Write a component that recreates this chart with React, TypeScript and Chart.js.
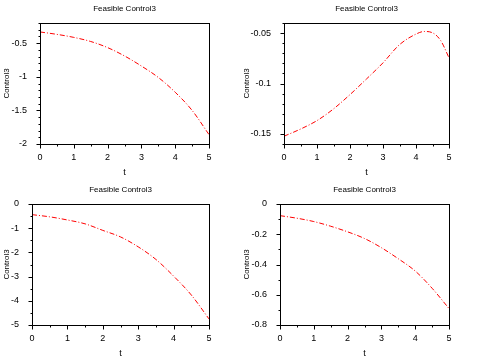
import React, { useEffect, useRef } from "react";
import { Chart, registerables } from "chart.js";

Chart.register(...registerables);

const TITLE = "Feasible Control3";
const X_LABEL = "t";
const Y_LABEL = "Control3";

const tHalf = [0, 0.5, 1, 1.5, 2, 2.5, 3, 3.5, 4, 4.5, 5];
const xTicks = [0, 1, 2, 3, 4, 5];

const values1 = [-0.333, -0.369, -0.414, -0.475, -0.566, -0.69, -0.84, -1.01, -1.23, -1.5, -1.86];
const yTicks1 = [-2, -1.5, -1, -0.5];

const t2 = [0, 0.5, 1, 1.5, 2, 2.5, 3, 3.5, 4, 4.25, 4.5, 4.75, 5];
const values2 = [-0.1523, -0.1452, -0.1368, -0.1252, -0.111, -0.0955, -0.0795, -0.0615, -0.051, -0.0484, -0.0497, -0.0575, -0.0745];
const yTicks2 = [-0.15, -0.1, -0.05];

const values3 = [-0.44, -0.53, -0.66, -0.82, -1.09, -1.36, -1.77, -2.29, -2.98, -3.76, -4.75];
const yTicks3 = [-5, -4, -3, -2, -1, 0];

const values4 = [-0.077, -0.094, -0.116, -0.147, -0.184, -0.228, -0.289, -0.362, -0.443, -0.557, -0.691];
const yTicks4 = [-0.8, -0.6, -0.4, -0.2, 0];

type PanelCfg = {
  t: number[];
  v: number[];
  yMin: number;
  yMax: number;
  yTicks: number[];
  yMinor: number;
  yAxisWidth: number;
  left: number;
  top: number;
};

const panels: PanelCfg[] = [
  { t: tHalf, v: values1, yMin: -2, yMax: -0.2, yTicks: yTicks1, yMinor: 0.1, yAxisWidth: 40, left: 0, top: 0 },
  { t: t2, v: values2, yMin: -0.16, yMax: -0.04, yTicks: yTicks2, yMinor: 0.01, yAxisWidth: 44, left: 240, top: 0 },
  { t: tHalf, v: values3, yMin: -5, yMax: 0, yTicks: yTicks3, yMinor: 0.5, yAxisWidth: 32, left: 0, top: 181 },
  { t: tHalf, v: values4, yMin: -0.8, yMax: 0, yTicks: yTicks4, yMinor: 0.1, yAxisWidth: 40, left: 240, top: 181 },
];

const FONT = "'Liberation Sans', Arial, sans-serif";

function fmt(v: number): string {
  const r = Math.round(v * 1000) / 1000;
  return String(r);
}

function Panel({ cfg }: { cfg: PanelCfg }) {
  const ref = useRef<HTMLCanvasElement | null>(null);
  useEffect(() => {
    if (!ref.current) return;
    const boxPlugin = {
      id: "boxAndTicks",
      afterDraw(chart: any) {
        const { ctx, chartArea, scales } = chart;
        const xs = scales.x;
        const ys = scales.y;
        ctx.save();
        ctx.strokeStyle = "#000";
        ctx.lineWidth = 1;
        const l = Math.round(chartArea.left) + 0.5;
        const r = Math.round(chartArea.right) + 0.5;
        const tp = Math.round(chartArea.top) + 0.5;
        const b = Math.round(chartArea.bottom) + 0.5;
        ctx.strokeRect(l, tp, r - l, b - tp);
        ctx.beginPath();
        for (let k = 0; k <= 10; k++) {
          const v = k * 0.5;
          const px = Math.round(xs.getPixelForValue(v)) + 0.5;
          const len = k % 2 === 0 ? 4 : 2;
          ctx.moveTo(px, b);
          ctx.lineTo(px, b + len);
        }
        const n = Math.round((cfg.yMax - cfg.yMin) / cfg.yMinor);
        for (let k = 0; k <= n; k++) {
          const v = cfg.yMin + k * cfg.yMinor;
          const major = cfg.yTicks.some((tv) => Math.abs(tv - v) < cfg.yMinor / 10);
          const py = Math.round(ys.getPixelForValue(v)) + 0.5;
          const len = major ? 4 : 2;
          ctx.moveTo(l, py);
          ctx.lineTo(l - len, py);
        }
        ctx.stroke();
        ctx.fillStyle = "#000";
        ctx.font = "8px " + FONT;
        ctx.textAlign = "center";
        ctx.textBaseline = "middle";
        ctx.fillText(TITLE, (chartArea.left + chartArea.right) / 2, 9);
        ctx.restore();
      },
    };
    const chart = new Chart(ref.current, {
      type: "line",
      data: {
        datasets: [
          {
            data: cfg.t.map((x, i) => ({ x, y: cfg.v[i] })),
            borderColor: "#ff0000",
            borderWidth: 1,
            borderDash: [5, 2, 1, 2],
            pointRadius: 0,
            cubicInterpolationMode: "monotone",
            fill: false,
          },
        ],
      },
      options: {
        animation: false,
        responsive: false,
        maintainAspectRatio: false,
        layout: { padding: { top: 23, right: 31, bottom: 0, left: 0 } },
        plugins: { legend: { display: false }, tooltip: { enabled: false }, title: { display: false } },
        scales: {
          x: {
            type: "linear",
            min: 0,
            max: 5,
            grid: { display: false },
            border: { display: false },
            afterBuildTicks: (s: any) => {
              s.ticks = xTicks.map((v) => ({ value: v }));
            },
            afterFit: (s: any) => {
              s.height = 37;
            },
            ticks: {
              color: "#000",
              font: { family: FONT, size: 9 },
              padding: 0,
              maxRotation: 0,
              callback: (v: any) => fmt(Number(v)),
            },
            title: {
              display: true,
              text: X_LABEL,
              color: "#000",
              font: { family: FONT, size: 9 },
              padding: { top: 4, bottom: 3 },
            },
          },
          y: {
            type: "linear",
            min: cfg.yMin,
            max: cfg.yMax,
            grid: { display: false },
            border: { display: false },
            afterBuildTicks: (s: any) => {
              s.ticks = cfg.yTicks.map((v) => ({ value: v }));
            },
            afterFit: (s: any) => {
              s.width = cfg.yAxisWidth;
            },
            ticks: {
              color: "#000",
              font: { family: FONT, size: 9 },
              padding: 5,
              callback: (v: any) => fmt(Number(v)),
            },
            title: {
              display: true,
              text: Y_LABEL,
              color: "#000",
              font: { family: FONT, size: 8 },
              padding: { top: 2, bottom: 2 },
            },
          },
        },
      } as any,
      plugins: [boxPlugin],
    });
    return () => chart.destroy();
  }, [cfg]);
  return (
    <canvas
      ref={ref}
      width={240}
      height={181}
      style={{ position: "absolute", left: cfg.left, top: cfg.top, width: 240, height: 181 }}
    />
  );
}

export default function App() {
  return (
    <div style={{ position: "absolute", left: 0, top: 0, width: 480, height: 362, background: "#fff" }}>
      {panels.map((p, i) => (
        <Panel key={i} cfg={p} />
      ))}
    </div>
  );
}
